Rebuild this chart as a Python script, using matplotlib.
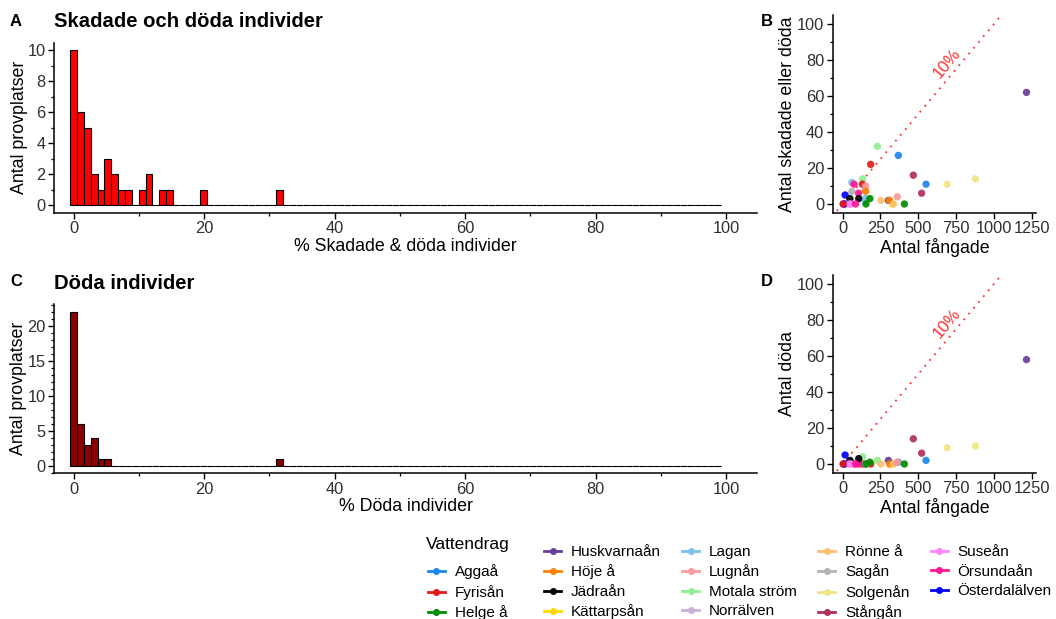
import numpy as np
import matplotlib
matplotlib.use("Agg")
import matplotlib.pyplot as plt
from matplotlib.lines import Line2D
from matplotlib.ticker import MultipleLocator

plt.rcParams['font.family'] = ['Liberation Sans', 'DejaVu Sans']

# histogram, bins of ~1.05 %
BINW = 1.05
NBINS = 95
skad_bins = [0, 1, 2, 3, 4, 5, 6, 7, 8, 10, 11, 13, 14, 19, 30]
skad_counts = [10, 6, 5, 2, 1, 3, 2, 1, 1, 1, 2, 1, 1, 1, 1]
doda_bins = [0, 1, 2, 3, 4, 5, 30]
doda_counts = [22, 6, 3, 4, 1, 1, 1]

# rivers and colours (legend order)
rivers = ['Aggaå', 'Fyrisån', 'Helge å', 'Huskvarnaån', 'Höje å', 'Jädraån',
          'Kättarpsån', 'Lagan', 'Lugnån', 'Motala ström', 'Norrälven',
          'Rönne å', 'Sagån', 'Solgenån', 'Stångån', 'Suseån', 'Örsundaån',
          'Österdalälven']
river_colors = ['#1C86EE', '#E31A1C', '#008B00', '#6A3D9A', '#FF7F00', '#000000',
                '#FFD700', '#7EC0EE', '#FB9A99', '#90EE90', '#CAB2D6',
                '#FDBF6F', '#B3B3B3', '#EEE685', '#B03060', '#FF83FA', '#FF1493',
                '#0000FF']

# one row per sampling site: river, caught, injured or dead, dead
site_river = ['Kättarpsån', 'Norrälven', 'Lagan', 'Motala ström', 'Aggaå', 'Fyrisån',
              'Stångån', 'Aggaå', 'Stångån', 'Motala ström', 'Lagan', 'Örsundaån',
              'Fyrisån', 'Lugnån', 'Sagån', 'Örsundaån', 'Höje å', 'Österdalälven',
              'Jädraån', 'Jädraån', 'Lagan', 'Helge å', 'Helge å', 'Österdalälven',
              'Österdalälven', 'Suseån', 'Suseån', 'Örsundaån', 'Fyrisån', 'Rönne å',
              'Huskvarnaån', 'Höje å', 'Rönne å', 'Lugnån', 'Helge å', 'Huskvarnaån',
              'Solgenån', 'Solgenån']
site_caught = [330, 150, 150, 229, 368, 185, 467, 551, 522, 132, 60, 75,
               130, 152, 60, 105, 152, 16, 48, 106, 152, 180, 154, 5,
               15, 44, 55, 85, 3, 253, 302, 310, 335, 361, 408, 1215,
               690, 878]
site_injured = [0, 8, 3, 32, 27, 22, 16, 11, 6, 14, 12, 11,
                11, 10, 7, 6, 7, 5, 3, 3, 2, 3, 0, 0,
                0, 0, 0, 0, 0, 2, 2, 2, 0, 4, 0, 62,
                11, 14]
site_dead = [0, 0, 0, 2, 1, 0, 14, 2, 6, 4, 1, 0,
             0, 0, 1, 0, 0, 5, 2, 3, 0, 1, 0, 0,
             0, 0, 0, 0, 0, 0, 2, 0, 0, 1, 0, 58,
             9, 10]

W, H = 1056, 619
fig = plt.figure(figsize=(W / 100, H / 100), dpi=100)


def rect(l, t, r, b):
    return [l / W, 1 - b / H, (r - l) / W, (b - t) / H]


def style(ax):
    for s in ['top', 'right']:
        ax.spines[s].set_visible(False)
    for s in ['left', 'bottom']:
        ax.spines[s].set_linewidth(1.1)
    ax.tick_params(which='major', length=4, width=1.0, labelsize=11.8,
                   labelcolor='#303030', pad=2)
    ax.tick_params(which='minor', length=2.2, width=0.9)


def hist(ax, bins, counts, fill, ymax, major, xlabel):
    heights = np.zeros(NBINS)
    heights[bins] = counts
    centers = np.arange(NBINS) * BINW
    ax.bar(centers, heights, width=BINW, color=fill, edgecolor='black', linewidth=0.8)
    ax.set_xlim(-3.0, 104.7)
    ax.set_ylim(-0.05 * ymax, 1.05 * ymax)
    ax.xaxis.set_major_locator(MultipleLocator(20))
    ax.xaxis.set_minor_locator(MultipleLocator(10))
    ax.yaxis.set_major_locator(MultipleLocator(major))
    ax.yaxis.set_minor_locator(MultipleLocator(1))
    ax.set_ylabel('Antal provplatser', fontsize=12.8, labelpad=0)
    ax.set_xlabel(xlabel, fontsize=12.8, labelpad=1)
    style(ax)


def scatter(ax, yvals, ylabel):
    cmap = dict(zip(rivers, river_colors))
    xs = np.array([-200, 1400])
    ax.plot(xs, 0.1 * xs, color='#FF3030', linestyle=(0, (1, 3.2)), linewidth=1.3, zorder=1)
    ax.scatter(site_caught, yvals, c=[cmap[r] for r in site_river], s=28,
               linewidths=0, alpha=0.92, zorder=3)
    ax.text(692, 78, '10%', color='#FF3030', fontsize=12,
            rotation=np.degrees(np.arctan(0.1)), transform_rotates_text=True,
            rotation_mode='anchor', ha='center', va='center')
    ax.set_xlim(-66, 1278)
    ax.set_ylim(-5, 105)
    ax.xaxis.set_major_locator(MultipleLocator(250))
    ax.yaxis.set_major_locator(MultipleLocator(20))
    ax.yaxis.set_minor_locator(MultipleLocator(10))
    ax.set_ylabel(ylabel, fontsize=12.8, labelpad=1)
    ax.set_xlabel('Antal fångade', fontsize=12.8, labelpad=1)
    style(ax)


axA = fig.add_axes(rect(54, 42.6, 757, 212.9))
hist(axA, skad_bins, skad_counts, '#FF0000', 10, 2, '% Skadade & döda individer')
axA.set_title('Skadade och döda individer', loc='left', fontsize=14.6,
              fontweight='bold', pad=11, x=0.0)

axC = fig.add_axes(rect(54, 304, 757, 473.4))
hist(axC, doda_bins, doda_counts, '#8B0000', 22, 5, '% Döda individer')
axC.set_title('Döda individer', loc='left', fontsize=14.6, fontweight='bold',
              pad=11, x=0.0)

axB = fig.add_axes(rect(832.7, 15, 1036, 213))
scatter(axB, site_injured, 'Antal skadade eller döda')

axD = fig.add_axes(rect(832.7, 275, 1036, 473))
scatter(axD, site_dead, 'Antal döda')

for lbl, x, y in [('A', 10, 21), ('B', 761, 21), ('C', 10, 282), ('D', 761, 281)]:
    fig.text(x / W, 1 - y / H, lbl, fontsize=12, fontweight='bold', va='center')

# legend: blank first slot holds the title
handles = [Line2D([], [], linestyle='none')]
labels = [' ' * 16]
for r, c in zip(rivers, river_colors):
    handles.append(Line2D([], [], color=c, linewidth=2, marker='o', markersize=4))
    labels.append(r)
fig.legend(handles, labels, ncol=5, loc='upper left',
           bbox_to_anchor=(428 / W, 1 - 545 / H), frameon=False, fontsize=11,
           handlelength=1.1, handletextpad=0.65, columnspacing=1.4,
           labelspacing=0.36, borderpad=0, borderaxespad=0)
fig.text(426 / W, 1 - 545 / H, 'Vattendrag', fontsize=12.5, va='center')

fig.savefig('out.png', dpi=100)
